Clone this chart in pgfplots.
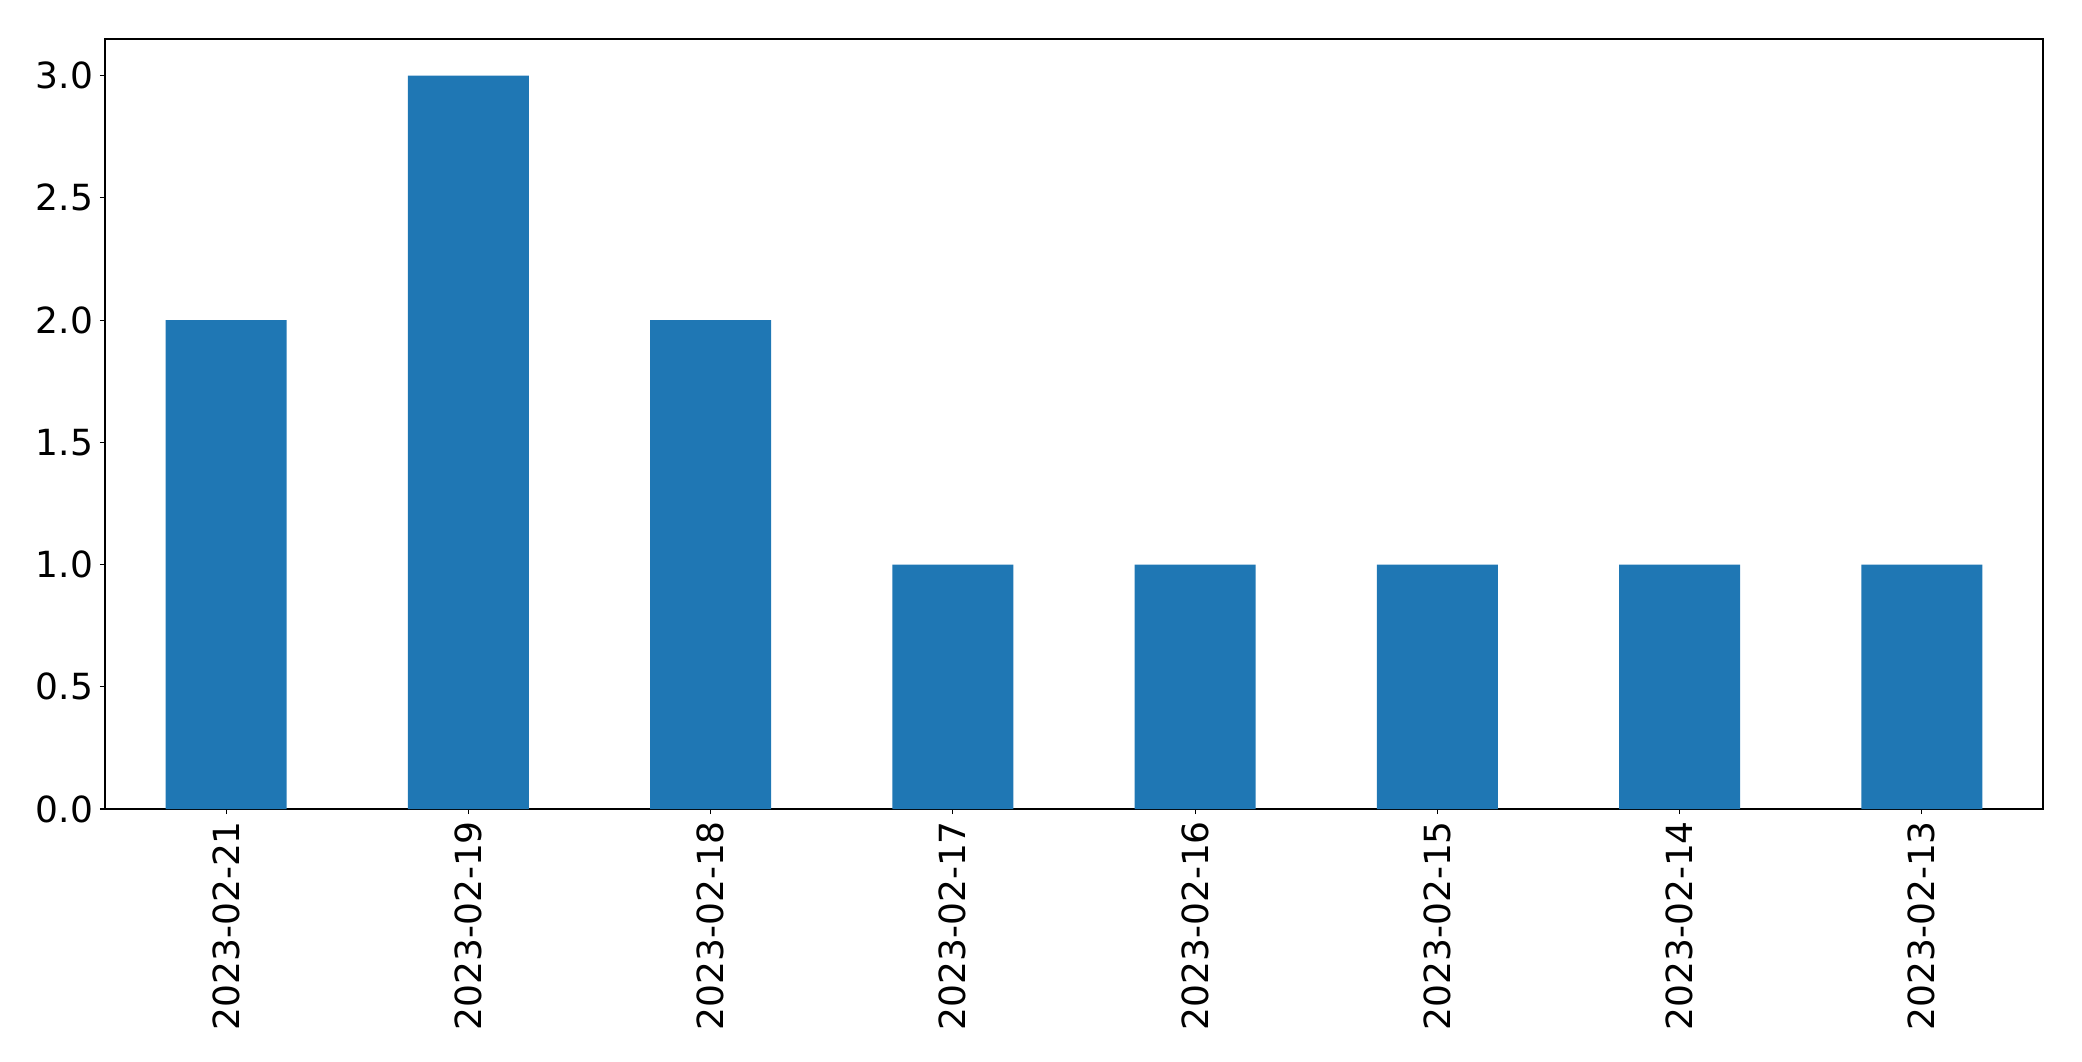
\documentclass[border=0pt]{standalone}
\usepackage{pgfplots}
\pgfplotsset{compat=1.18}
\usepackage{fontspec}
\setmainfont{DejaVu Sans}
\definecolor{mplblue}{HTML}{1F77B4}
\begin{document}
\begin{tikzpicture}
\path[use as bounding box] (-52.5pt,-126pt) rectangle (988.5pt,404.5pt);
\begin{axis}[
  at={(0,0)}, anchor=south west,
  scale only axis,
  width=969pt, height=385pt,
  xmin=-0.5, xmax=7.5, ymin=0, ymax=3.15,
  xtick={0,1,2,3,4,5,6,7},
  xticklabels={2023-02-21,2023-02-19,2023-02-18,2023-02-17,2023-02-16,2023-02-15,2023-02-14,2023-02-13},
  ytick={0,0.5,1,1.5,2,2.5,3},
  yticklabel style={/pgf/number format/.cd, fixed, fixed zerofill, precision=1},
  /pgf/number format/assume math mode=true,
  xticklabel style={rotate=90, anchor=east},
  tick label style={font=\fontsize{18}{21}\selectfont},
  tick align=outside, tick pos=left,
  major tick length=2.5pt,
  every tick/.style={black, line width=0.55pt},
  axis line style={line width=0.55pt},
  xtick style={black}, ytick style={black},
]
\addplot[ybar, bar width=0.5, fill=mplblue, draw=none] coordinates {
  (0,2) (1,3) (2,2) (3,1) (4,1) (5,1) (6,1) (7,1)
};
\end{axis}
\end{tikzpicture}
\end{document}
